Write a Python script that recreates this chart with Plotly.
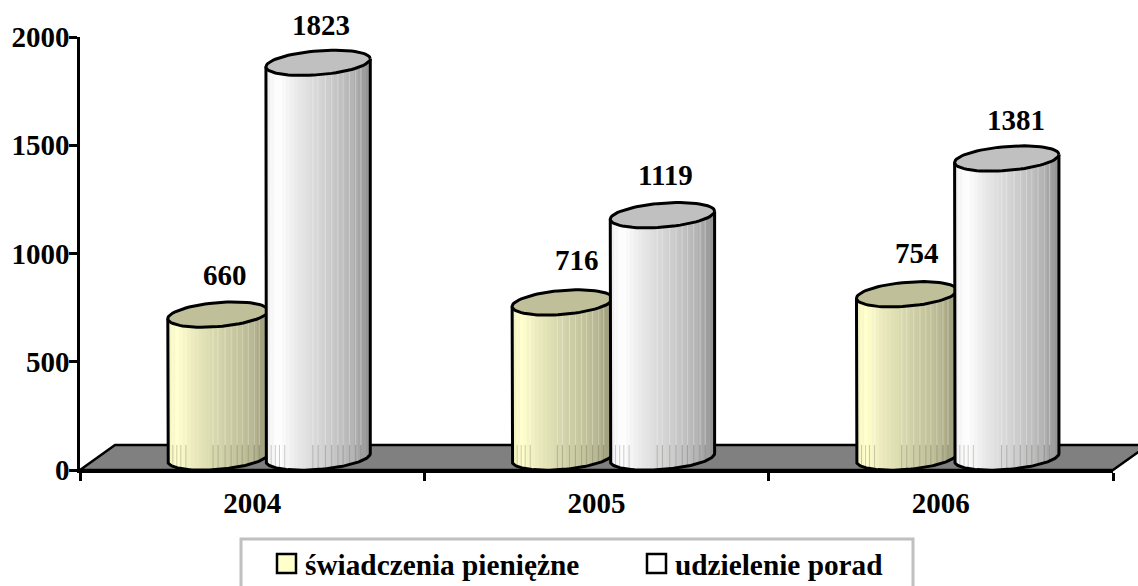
import math
import plotly.graph_objects as go

years = ["2004", "2005", "2006"]
series_a_name = "świadczenia pieniężne"
series_b_name = "udzielenie porad"
series_a = [660, 716, 754]
series_b = [1823, 1119, 1381]
y_ticks = [0, 500, 1000, 1500, 2000]

FONT = "Liberation Serif"
INK = "#000000"
PX_X = 344.33
PX_Y = 0.2165
PLOT_L, PLOT_R, PLOT_T, PLOT_B = 80, 1113, 37, 470
N_STRIPS = 52
N_BANDS = 26

A_SPAN = (0.255, 0.547)
B_SPAN = (0.540, 0.843)
BASE = 12.5 / PX_Y
HALF_H = 12.0 / PX_Y
TILT = 4.0 / PX_Y
FLOOR_TOP = 25 / PX_Y

A_STOPS = [(0.0, (243, 243, 196)), (0.08, (255, 255, 204)), (0.25, (234, 234, 190)),
           (0.6, (205, 205, 165)), (0.85, (184, 184, 147)), (1.0, (156, 156, 124))]
B_STOPS = [(0.0, (240, 240, 240)), (0.1, (255, 255, 255)), (0.3, (232, 232, 232)),
           (0.6, (205, 205, 205)), (0.85, (180, 180, 180)), (1.0, (150, 150, 150))]
A_TOP = "#BFBF99"
B_TOP = "#C0C0C0"
HAIRLINE_F = [.05, .09, .13, .18, .45, .5, .57, .63, .69, .74, .80, .86, .91]

A_LABEL_DX = [7, 15, 10]
B_LABEL_DX = [3, 3, 9]
A_LABEL_DY = [40, 42, 41]
B_LABEL_DY = [38, 40, 39]


def band_color(f, stops):
    f = min(int(f * N_BANDS) / (N_BANDS - 1), 1.0)
    for (f0, c0), (f1, c1) in zip(stops, stops[1:]):
        if f <= f1:
            k = (f - f0) / (f1 - f0)
            return "rgb(%d,%d,%d)" % tuple(round(a + (b - a) * k) for a, b in zip(c0, c1))
    return "rgb(%d,%d,%d)" % stops[-1][1]


def ellipse(cx, a, cy, t0=0.0, t1=2 * math.pi, n=72):
    xs, ys = [], []
    for i in range(n + 1):
        t = t0 + (t1 - t0) * i / n
        xs.append(cx + a * math.cos(t))
        ys.append(cy + TILT * math.cos(t) + HALF_H * math.sin(t))
    return xs, ys


def cylinder(fig, group, value, span, stops, top_color, xa, ya):
    left, right = group + span[0], group + span[1]
    cx, a = (left + right) / 2, (right - left) / 2
    top_y = BASE + value
    xs, bases, heights, colors = [], [], [], []
    w = (right - left) / N_STRIPS
    for i in range(N_STRIPS):
        f = (i + 0.5) / N_STRIPS
        x = left + f * (right - left)
        c = (x - cx) / a
        low = BASE + TILT * c - HALF_H * math.sqrt(1 - c * c)
        xs.append(x)
        bases.append(low)
        heights.append(top_y + TILT * c - low)
        colors.append(band_color(f, stops))
    fig.add_bar(x=xs, y=heights, base=bases, width=[w * 1.25] * N_STRIPS,
                marker=dict(color=colors, line=dict(width=0)),
                xaxis=xa, yaxis=ya, showlegend=False, hoverinfo="skip", cliponaxis=False)
    # thin vertical seams of the reference gradient
    dark_x, dark_y, light_x, light_y = [], [], [], []
    for f in HAIRLINE_F:
        x = left + f * (right - left)
        c = (x - cx) / a
        low = BASE + TILT * c - HALF_H * math.sqrt(1 - c * c)
        up = top_y + TILT * c - HALF_H * math.sqrt(1 - c * c)
        dark_x += [x, x, None]
        dark_y += [low, FLOOR_TOP, None]
        light_x += [x, x, None]
        light_y += [FLOOR_TOP, up, None]
    fig.add_scatter(x=dark_x, y=dark_y, mode="lines",
                    line=dict(color="rgba(110,110,100,0.35)", width=1), xaxis=xa, yaxis=ya,
                    showlegend=False, hoverinfo="skip", cliponaxis=False)
    fig.add_scatter(x=light_x, y=light_y, mode="lines",
                    line=dict(color="rgba(255,255,255,0.3)", width=1), xaxis=xa, yaxis=ya,
                    showlegend=False, hoverinfo="skip", cliponaxis=False)
    # outline of the body
    bx, by = ellipse(cx, a, BASE, math.pi, 2 * math.pi)
    fig.add_scatter(x=[left] + bx + [right], y=[top_y - TILT] + by + [top_y + TILT], mode="lines",
                    line=dict(color=INK, width=3), xaxis=xa, yaxis=ya,
                    showlegend=False, hoverinfo="skip", cliponaxis=False)
    # top face
    ex, ey = ellipse(cx, a, top_y)
    fig.add_scatter(x=ex, y=ey, mode="lines", fill="toself", fillcolor=top_color,
                    line=dict(color=INK, width=3), xaxis=xa, yaxis=ya,
                    showlegend=False, hoverinfo="skip", cliponaxis=False)


fig = go.Figure()
for g, v in enumerate(series_a):
    cylinder(fig, g, v, A_SPAN, A_STOPS, A_TOP, "x", "y")
for g, v in enumerate(series_b):
    cylinder(fig, g, v, B_SPAN, B_STOPS, B_TOP, "x2", "y2")

label_font = dict(family=FONT, size=29, color=INK, weight=700)
value_labels = []
for values, span, dxs, dys in ((series_a, A_SPAN, A_LABEL_DX, A_LABEL_DY),
                               (series_b, B_SPAN, B_LABEL_DX, B_LABEL_DY)):
    for g, (v, dx, dy) in enumerate(zip(values, dxs, dys)):
        value_labels.append(dict(text=str(v), x=g + sum(span) / 2, y=BASE + v,
                                 xref="x2", yref="y2", xshift=dx, yshift=dy,
                                 xanchor="center", yanchor="middle", showarrow=False,
                                 font=label_font))


def px(x):
    return (x - PLOT_L) / (PLOT_R - PLOT_L)


def py(y):
    return (PLOT_B - y) / (PLOT_B - PLOT_T)


legend_shapes = [
    dict(type="rect", xref="paper", yref="paper", x0=px(241), x1=px(913), y0=py(592), y1=py(539),
         fillcolor="white", line=dict(color="#C0C0C0", width=3)),
    dict(type="rect", xref="paper", yref="paper", x0=px(277), x1=px(296), y0=py(573), y1=py(554),
         fillcolor="#FFFFCC", line=dict(color=INK, width=2.5)),
    dict(type="rect", xref="paper", yref="paper", x0=px(647), x1=px(666), y0=py(573), y1=py(554),
         fillcolor="#FFFFFF", line=dict(color=INK, width=2.5)),
]
legend_font = dict(family=FONT, size=29.3, color=INK, weight=700)
legend_labels = [
    dict(text=series_a_name, xref="paper", yref="paper", x=px(303), y=py(565), xanchor="left",
         yanchor="middle", showarrow=False, font=legend_font),
    dict(text=series_b_name, xref="paper", yref="paper", x=px(673), y=py(565), xanchor="left",
         yanchor="middle", showarrow=False, font=legend_font),
]

axis_font = dict(family=FONT, size=29, color=INK, weight=700)
fig.update_layout(
    width=1138, height=586, autosize=False,
    margin=dict(l=PLOT_L, r=1138 - PLOT_R, t=PLOT_T, b=586 - PLOT_B, pad=0),
    paper_bgcolor="white", plot_bgcolor="white",
    barmode="overlay", bargap=0, showlegend=False,
    xaxis=dict(range=[0, 3], tickvals=[0.5, 1.5, 2.5], ticktext=years, ticks="",
               showgrid=False, zeroline=False, showline=True, linecolor=INK, linewidth=2.5,
               tickfont=axis_font, ticklabelstandoff=5,
               minor=dict(tickvals=[0, 1, 2, 3], ticks="outside", ticklen=8, tickwidth=2.5,
                          tickcolor=INK, showgrid=False)),
    yaxis=dict(range=[0, 2000], tickvals=y_ticks, ticks="outside", ticklen=8, tickwidth=2.5,
               tickcolor=INK, showgrid=False, zeroline=False, showline=True, linecolor=INK,
               linewidth=2.5, tickfont=axis_font, ticklabelstandoff=-6),
    xaxis2=dict(range=[0, 3], overlaying="x", visible=False),
    yaxis2=dict(range=[0, 2000], overlaying="y", visible=False),
    annotations=value_labels + legend_labels,
    shapes=[dict(type="path", xref="paper", yref="paper", layer="below",
                 path="M 0 0 L 0.0339 0.0577 L 1.034 0.0577 L 1 0 Z",
                 fillcolor="#808080", line=dict(color=INK, width=2.5))] + legend_shapes,
)

fig.write_html("out.html", config={"displayModeBar": False},
               post_script="document.body.style.margin='0';")
